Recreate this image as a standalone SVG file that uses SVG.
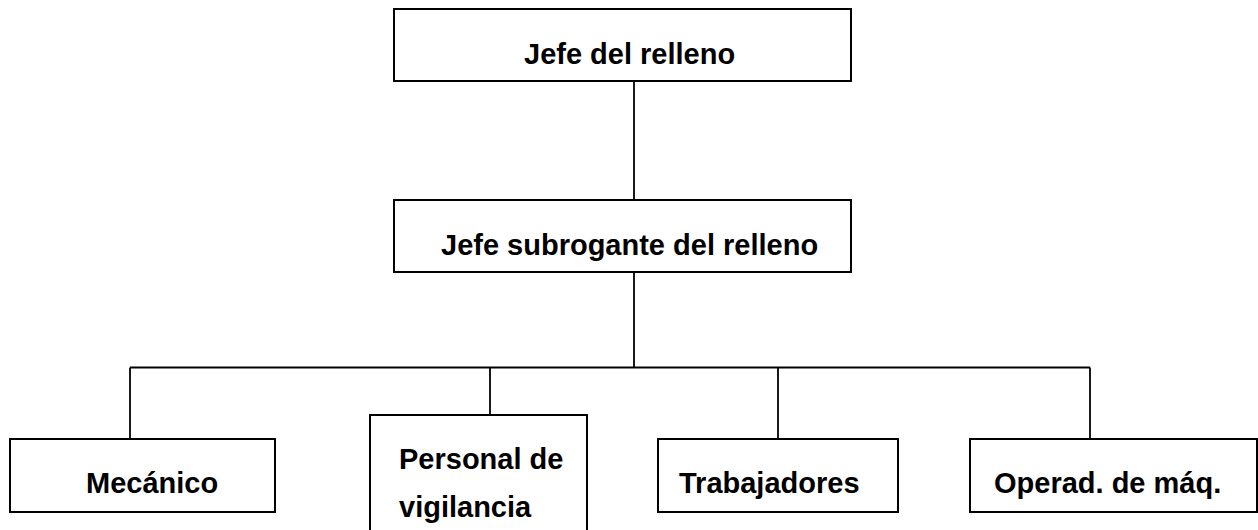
<svg xmlns="http://www.w3.org/2000/svg" width="1258" height="530" viewBox="0 0 1258 530">
<style>
.box{fill:#fff;stroke:#000;stroke-width:2}
.lbl{font-family:"Liberation Sans",Arial,sans-serif;font-weight:bold;font-size:29px;fill:#000}
.con{stroke:#000;stroke-width:1.8;fill:none}
</style>
<rect width="1258" height="530" fill="#fff"/>
<g id="connectors">
<line class="con" x1="634" y1="81" x2="634" y2="200"/>
<line class="con" x1="634" y1="272" x2="634" y2="367.5"/>
<line class="con" x1="130" y1="367.5" x2="1090" y2="367.5"/>
<line class="con" x1="130" y1="367.5" x2="130" y2="439"/>
<line class="con" x1="490" y1="367.5" x2="490" y2="415"/>
<line class="con" x1="778" y1="367.5" x2="778" y2="439"/>
<line class="con" x1="1090" y1="367.5" x2="1090" y2="439"/>
</g>
<g id="jefe">
<rect class="box" x="394" y="9" width="457" height="72"/>
<text class="lbl" x="524" y="64">Jefe del relleno</text>
</g>
<g id="subrogante">
<rect class="box" x="394" y="200" width="457" height="72"/>
<text class="lbl" x="441" y="255">Jefe subrogante del relleno</text>
</g>
<g id="mecanico">
<rect class="box" x="10" y="439" width="265" height="73"/>
<text class="lbl" x="86" y="493">Mecánico</text>
</g>
<g id="vigilancia">
<rect class="box" x="370" y="415" width="217" height="125"/>
<text class="lbl" x="399" y="469">Personal de</text>
<text class="lbl" x="399" y="517">vigilancia</text>
</g>
<g id="trabajadores">
<rect class="box" x="658" y="439" width="240" height="73"/>
<text class="lbl" x="679" y="493">Trabajadores</text>
</g>
<g id="operadores">
<rect class="box" x="970" y="439" width="287" height="73"/>
<text class="lbl" x="994" y="493">Operad. de máq.</text>
</g>
</svg>
